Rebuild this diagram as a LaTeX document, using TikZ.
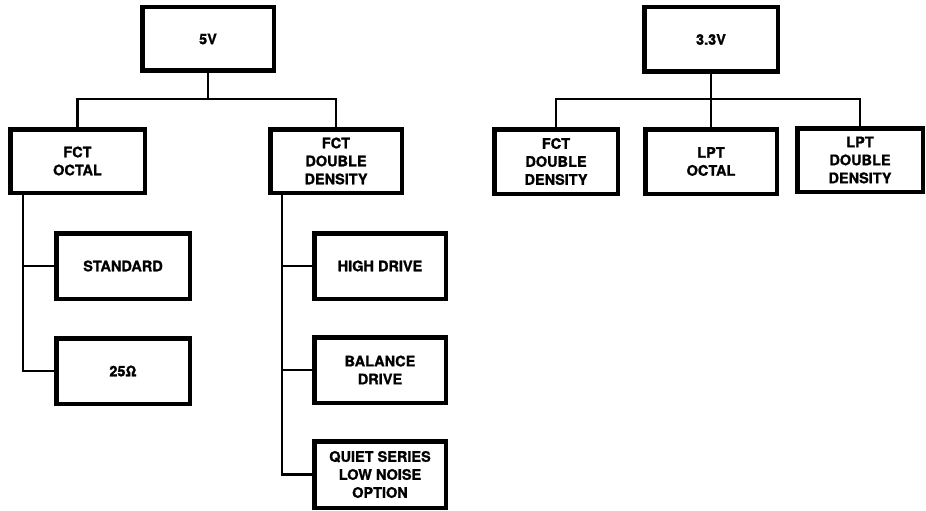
\documentclass[tikz,border=0pt]{standalone}
\usepackage{fontspec}
\setmainfont{TeX Gyre Heros}[BoldFeatures={FakeBold=1.2}]
\begin{document}
\begin{tikzpicture}[x=1pt,y=-1pt,
  blk/.style={draw,line width=4.5pt,minimum width=131.5pt,minimum height=63.5pt,
    align=center,inner sep=0pt,font=\fontsize{14.5}{18}\selectfont\bfseries},
  wire/.style={line width=2.2pt}]
 \useasboundingbox (0,0) rectangle (926,511);
 \begin{scope}
  \node[blk] (v5) at (208,39) {5V};
  \node[blk,minimum width=134.5pt] (foct) at (77.5,161) {FCT\\OCTAL};
  \node[blk] (fdd) at (336,161) {FCT\\DOUBLE\\DENSITY};
  \node[blk,minimum width=133.5pt,minimum height=65.5pt] (std) at (123,266) {STANDARD};
  \node[blk,minimum width=133.5pt,minimum height=65.5pt] (r25) at (123,371) {25Ω};
  \node[blk,minimum height=65.5pt] (hd) at (380,266) {HIGH DRIVE};
  \node[blk,minimum height=65.5pt] (bd) at (380,370) {BALANCE\\DRIVE};
  \node[blk,minimum height=66.5pt] (qs) at (380,474.5) {QUIET SERIES\\LOW NOISE\\OPTION};
  \draw[wire] (v5.south) -- ++(0,26) coordinate (t5);
  \draw[wire] (foct.north) |- (t5) -| (fdd.north);
  \coordinate (lo) at ([xshift=15]foct.south west);
  \draw[wire] (lo) |- (r25.west);
  \draw[wire] (std.west) -- (std.west -| lo);
  \coordinate (ro) at ([xshift=14]fdd.south west);
  \draw[wire] (ro) |- (qs.west);
  \draw[wire] (hd.west) -- (hd.west -| ro);
  \draw[wire] (bd.west) -- (bd.west -| ro);
 \end{scope}
 \begin{scope}
  \node[blk,minimum width=133.5pt,minimum height=64.5pt] (v33) at (711,39.5) {3.3V};
  \node[blk,minimum width=123.5pt,minimum height=64.5pt] (fdd3) at (556,161.5) {FCT\\DOUBLE\\DENSITY};
  \node[blk,minimum height=64.5pt] (loct) at (711,161.5) {LPT\\OCTAL};
  \node[blk,minimum width=125.5pt] (ldd) at (860,160) {LPT\\DOUBLE\\DENSITY};
  \draw[wire] (v33.south) -- ++(0,25) coordinate (t33);
  \draw[wire] (fdd3.north) |- (t33) -| (ldd.north);
  \draw[wire] (t33) -- (loct.north);
 \end{scope}
\end{tikzpicture}
\end{document}
